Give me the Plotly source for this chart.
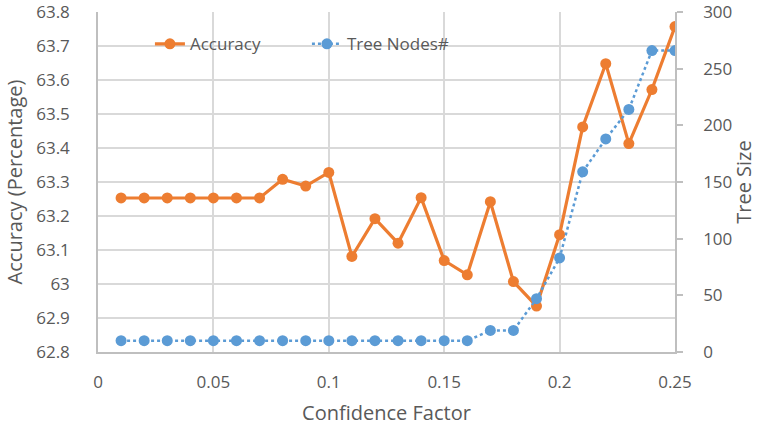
import plotly.graph_objects as go

conf_factor = [0.01, 0.02, 0.03, 0.04, 0.05, 0.06, 0.07, 0.08, 0.09, 0.10,
               0.11, 0.12, 0.13, 0.14, 0.15, 0.16, 0.17, 0.18, 0.19, 0.20,
               0.21, 0.22, 0.23, 0.24, 0.25]
accuracy = [63.253, 63.253, 63.253, 63.253, 63.253, 63.253, 63.253, 63.308, 63.288, 63.328,
            63.081, 63.192, 63.120, 63.254, 63.069, 63.027, 63.242, 63.007, 62.935, 63.145,
            63.462, 63.648, 63.413, 63.572, 63.757]
tree_nodes = [10, 10, 10, 10, 10, 10, 10, 10, 10, 10,
              10, 10, 10, 10, 10, 10, 19, 19, 47, 83,
              159, 188, 214, 266, 266]

x_ticks = [0, 0.05, 0.1, 0.15, 0.2, 0.25]
x_ticktext = ["0", "0.05", "0.1", "0.15", "0.2", "0.25"]
acc_ticks = [62.8, 62.9, 63.0, 63.1, 63.2, 63.3, 63.4, 63.5, 63.6, 63.7, 63.8]
acc_ticktext = ["62.8", "62.9", "63", "63.1", "63.2", "63.3", "63.4", "63.5", "63.6", "63.7", "63.8"]
node_ticks = [0, 50, 100, 150, 200, 250, 300]

FONT = "Open Sans"
GRAY = "#595959"
GRID = "#d9d9d9"
AXIS = "#bfbfbf"
FS = 17

fig = go.Figure()
fig.add_trace(go.Scatter(
    x=conf_factor, y=accuracy, name="Accuracy", mode="lines+markers",
    line=dict(color="#ED7D31", width=3.2),
    marker=dict(color="#ED7D31", size=11),
    yaxis="y"))
fig.add_trace(go.Scatter(
    x=conf_factor, y=tree_nodes, name="Tree Nodes#", mode="lines+markers",
    line=dict(color="#5B9BD5", width=2.5, dash="dot"),
    marker=dict(color="#5B9BD5", size=11),
    yaxis="y2"))

fig.update_layout(
    width=757, height=432,
    margin=dict(l=98, r=82, t=12, b=80, autoexpand=False),
    paper_bgcolor="white", plot_bgcolor="white",
    font=dict(family=FONT, size=FS, color=GRAY),
    showlegend=True,
    legend=dict(orientation="h", x=0.09, y=0.905, xanchor="left", yanchor="middle",
                bgcolor="rgba(0,0,0,0)", font=dict(size=FS, color=GRAY),
                entrywidth=112, entrywidthmode="pixels", tracegroupgap=0),
    xaxis=dict(range=[0, 0.25], tickvals=x_ticks, ticktext=x_ticktext,
               showgrid=True, gridcolor=GRID, gridwidth=1.5,
               showline=True, linecolor=AXIS, linewidth=1.5,
               zeroline=False, ticks="", ticklabelstandoff=14, automargin=False,
               ticklabeloverflow="allow",
               title=dict(text="Confidence Factor", standoff=14)),
    yaxis=dict(range=[62.8, 63.8], tickvals=acc_ticks, ticktext=acc_ticktext,
               showgrid=True, gridcolor=GRID, gridwidth=1.5,
               showline=True, linecolor=AXIS, linewidth=1.5,
               zeroline=False, ticks="", ticklabelstandoff=23, automargin=False,
               ticklabeloverflow="allow",
               title=dict(text="Accuracy (Percentage)", standoff=8)),
    yaxis2=dict(range=[0, 300], tickvals=node_ticks,
                overlaying="y", side="right", showgrid=False,
                showline=True, linecolor=AXIS, linewidth=1.5,
                zeroline=False, ticks="outside", ticklen=6, tickcolor=AXIS, tickwidth=1.5,
                ticklabelstandoff=17, automargin=False, ticklabeloverflow="allow",
                title=dict(text="Tree Size", standoff=12)),
)

fig.write_html("out.html", config={"displayModeBar": False},
               post_script="document.body.style.margin='0';document.body.style.padding='0';")
